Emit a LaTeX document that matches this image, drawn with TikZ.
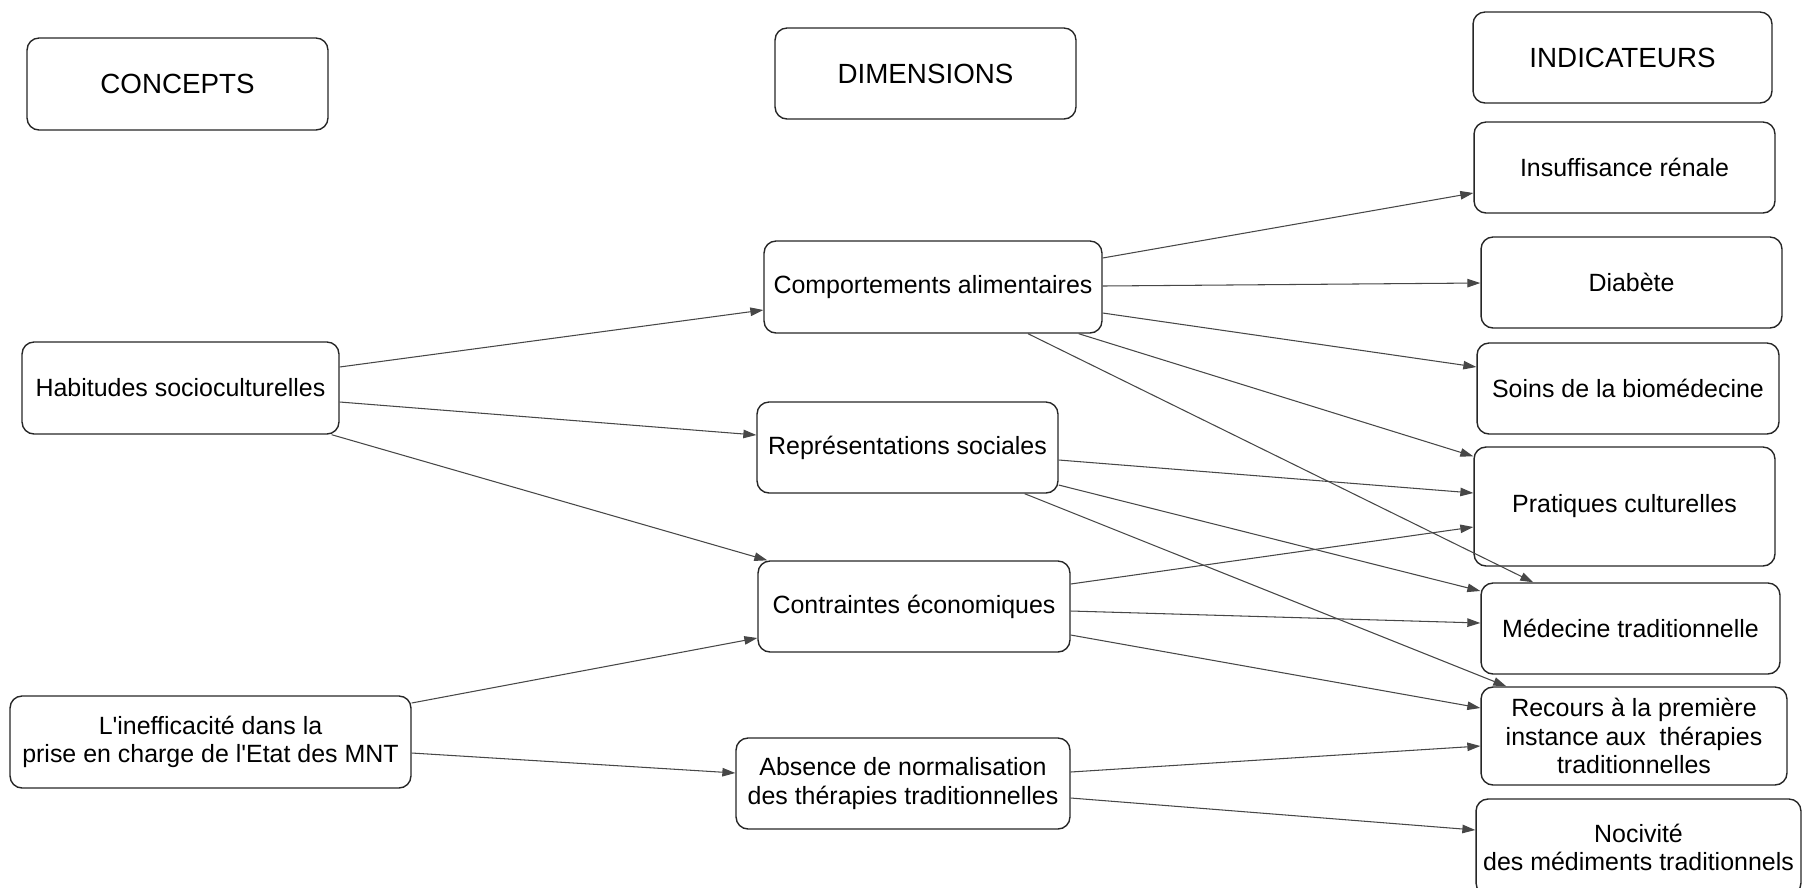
\documentclass[tikz,border=0pt]{standalone}
\usepackage{fontspec}
\setmainfont{Liberation Sans}[Ligatures=TeXOff]
\usepackage{tikz}
\usetikzlibrary{arrows.meta,calc}

\begin{document}
\begin{tikzpicture}[x=0.02cm,y=-0.02cm,
  box/.style={draw=black!85, line width=0.8pt, rounded corners=0.24cm, inner sep=2pt,
    align=center, font=\fontsize{14.2}{16}\selectfont},
  headbox/.style={box, font=\fontsize{15.8}{19}\selectfont},
  arr/.style={draw=black!72, line width=0.6pt, -{Triangle[length=2.6mm,width=1.7mm]}}]
\useasboundingbox (0,0) rectangle (1802,887);
\node[headbox, minimum width=6.02cm, minimum height=1.84cm] (concepts) at (177.5,84) {CONCEPTS};
\node[headbox, minimum width=6.02cm, minimum height=1.82cm] (dims) at (925.5,73.5) {DIMENSIONS};
\node[headbox, minimum width=5.98cm, minimum height=1.82cm] (indic) at (1622.5,57.5) {INDICATEURS};
\node[box, minimum width=6.34cm, minimum height=1.84cm] (habit) at (180.5,388) {Habitudes socioculturelles};
\node[box, minimum width=8.02cm, minimum height=1.84cm] (ineff) at (210.5,742) {L'inefficacité dans la\\prise en charge de l'Etat des MNT};
\node[box, minimum width=6.76cm, minimum height=1.84cm] (comp) at (933,287) {Comportements alimentaires};
\node[box, minimum width=6.02cm, minimum height=1.82cm] (repr) at (907.5,447.5) {Représentations sociales};
\node[box, minimum width=6.24cm, minimum height=1.82cm] (contr) at (914,606.5) {Contraintes économiques};
\node[box, minimum width=6.68cm, minimum height=1.82cm] (absn) at (903,783.5) {Absence de normalisation\\des thérapies traditionnelles};
\node[box, minimum width=6.02cm, minimum height=1.82cm] (insuf) at (1624.5,167.5) {Insuffisance rénale};
\node[box, minimum width=6.02cm, minimum height=1.82cm] (diab) at (1631.5,282.5) {Diabète};
\node[box, minimum width=6.04cm, minimum height=1.82cm] (soins) at (1628,388.5) {Soins de la biomédecine};
\node[box, minimum width=6.02cm, minimum height=2.38cm] (prat) at (1624.5,506.5) {Pratiques culturelles};
\node[box, minimum width=5.98cm, minimum height=1.82cm] (medtr) at (1630.5,628.5) {Médecine traditionnelle};
\node[box, minimum width=6.12cm, minimum height=1.96cm] (recours) at (1634,736) {Recours à la première\\instance aux~ thérapies\\traditionnelles};
\node[box, minimum width=6.5cm, minimum height=1.92cm] (nociv) at (1638.5,847) {Nocivité\\des médiments traditionnels};
\draw[arr] ($(habit.east)+(0,-21)$) -- ($(comp.west)+(0,23)$);
\draw[arr] ($(habit.east)+(0,14)$) -- ($(repr.west)+(0,-12.5)$);
\draw[arr] ($(habit.south east)+(-8,0)$) -- ($(contr.north west)+(10,0)$);
\draw[arr] ($(ineff.east)+(0,-39)$) -- ($(contr.west)+(0,31.5)$);
\draw[arr] ($(ineff.east)+(0,11)$) -- ($(absn.west)+(0,-10.5)$);
\draw[arr] ($(comp.east)+(0,-29)$) -- ($(insuf.west)+(0,25.5)$);
\draw[arr] ($(comp.east)+(0,-1)$) -- ($(diab.west)+(0,0.5)$);
\draw[arr] ($(comp.east)+(0,26)$) -- ($(soins.west)+(0,-21.5)$);
\draw[arr] ($(comp.south east)+(-24,0)$) -- ($(prat.north west)+(0,10)$);
\draw[arr] ($(comp.south)+(95,0)$) -- ($(medtr.north west)+(53,0)$);
\draw[arr] ($(repr.east)+(0,12.5)$) -- ($(prat.west)+(0,-13.5)$);
\draw[arr] ($(repr.east)+(0,37.5)$) -- ($(medtr.west)+(0,-37.5)$);
\draw[arr] ($(repr.south east)+(-34,0)$) -- ($(recours.north west)+(26,0)$);
\draw[arr] ($(contr.east)+(0,-22.5)$) -- ($(prat.west)+(0,20.5)$);
\draw[arr] ($(contr.east)+(0,4.5)$) -- ($(medtr.west)+(0,-5.5)$);
\draw[arr] ($(contr.east)+(0,28.5)$) -- ($(recours.west)+(0,-28)$);
\draw[arr] ($(absn.east)+(0,-11.5)$) -- ($(recours.west)+(0,10)$);
\draw[arr] ($(absn.east)+(0,14.5)$) -- ($(nociv.west)+(0,-17)$);
\end{tikzpicture}
\end{document}
